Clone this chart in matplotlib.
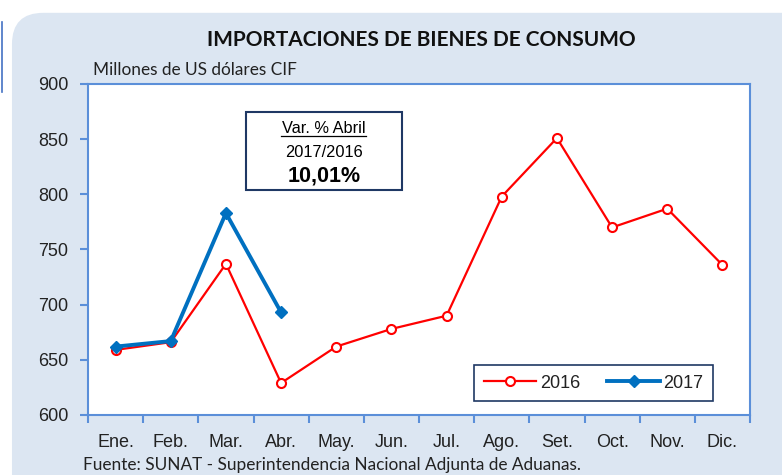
import matplotlib.pyplot as plt
from matplotlib.patches import FancyBboxPatch, Rectangle
from matplotlib.lines import Line2D

meses = ['Ene.', 'Feb.', 'Mar.', 'Abr.', 'May.', 'Jun.', 'Jul.', 'Ago.', 'Set.', 'Oct.', 'Nov.', 'Dic.']
v2016 = [659, 666, 737, 629, 662, 678, 690, 798, 851, 770, 787, 736]
v2017 = [662, 667, 783, 693]

azul_eje = '#5b8fd9'
fondo = '#dce6f2'

fig = plt.figure(figsize=(7.82, 4.75), dpi=100)
fig.patch.set_facecolor('white')

# fondo redondeado
bg = FancyBboxPatch((0.0153, -0.1), 1.1, 1.073, boxstyle='round,pad=0,rounding_size=0.04',
                    transform=fig.transFigure, facecolor=fondo, edgecolor='none', zorder=-10,
                    mutation_aspect=782 / 475)
fig.patches.append(bg)
fig.add_artist(Line2D([0.002, 0.002], [1 - 22 / 475, 1 - 92 / 475], color='#4472c4', lw=1.2,
                      transform=fig.transFigure, zorder=-5))

ax = fig.add_axes([88 / 782, 1 - 415 / 475, 662 / 782, 331 / 475])
ax.set_facecolor('white')

x16 = range(len(v2016))
x17 = range(len(v2017))
ax.plot(x16, v2016, color='#ff0000', lw=1.6, marker='o', ms=6.5, mfc='white', mec='#ff0000',
        mew=1.5, label='2016', zorder=3)
ax.plot(x17, v2017, color='#0070c0', lw=2.8, marker='D', ms=6.5, mfc='#0070c0', mec='#0070c0',
        label='2017', zorder=4)

ax.set_xlim(-0.5, 11.5)
ax.set_ylim(600, 900)
ax.set_yticks(range(600, 901, 50))
ax.set_xticks(list(x16))
ax.set_xticklabels(meses)
ax.set_xticks([i + 0.5 for i in range(-1, 12)], minor=True)
ax.tick_params(axis='x', which='major', length=0, pad=14, labelsize=13, colors='#222222')
ax.tick_params(axis='x', which='minor', length=6, width=1.5, color=azul_eje, direction='out')
ax.tick_params(axis='y', length=6, width=1.5, color=azul_eje, labelsize=13, labelcolor='#222222', pad=8)
for lab in ax.get_xticklabels() + ax.get_yticklabels():
    lab.set_fontfamily('Liberation Sans')
for s in ax.spines.values():
    s.set_color(azul_eje)
    s.set_linewidth(1.5)

# cuadro de variacion
ax.add_patch(Rectangle((0.239, 0.680), 0.235, 0.235, transform=ax.transAxes, facecolor='white',
                       edgecolor='#1f3864', lw=1.5, zorder=5))
cx = 0.3565
ax.text(cx, 0.867, 'Var. % Abril', transform=ax.transAxes, ha='center', va='center',
        fontsize=11.8, family='Liberation Sans', zorder=6)
ax.add_line(Line2D([(281 - 88) / 662, (366 - 88) / 662], [0.842, 0.842], transform=ax.transAxes,
                   color='black', lw=0.9, zorder=6))
ax.text(cx, 0.792, '2017/2016', transform=ax.transAxes, ha='center', va='center',
        fontsize=11.8, family='Liberation Sans', zorder=6)
ax.text(cx, 0.722, '10,01%', transform=ax.transAxes, ha='center', va='center',
        fontsize=15.5, fontweight='bold', family='Liberation Sans', zorder=6)

leg = ax.legend(loc='center', bbox_to_anchor=(0.764, 0.0965), ncol=2, frameon=True, fancybox=False,
                framealpha=1, edgecolor='#1f3864', prop={'family': 'Liberation Sans', 'size': 13},
                handlelength=2.9, handletextpad=0.2, columnspacing=1.5, borderpad=0.55)
leg.get_frame().set_linewidth(1.2)
for t in leg.get_texts():
    t.set_color('#222222')

fig.text(421 / 782, 1 - 40 / 475, 'IMPORTACIONES DE BIENES DE CONSUMO', ha='center', va='center',
         fontsize=15, fontweight='bold', family='Lato', color='#111111')
fig.text(93 / 782, 1 - 70 / 475, 'Millones de US dólares CIF', ha='left', va='center',
         fontsize=12.4, family='Lato', color='#222222')
fig.text(83 / 782, 1 - 465 / 475, 'Fuente: SUNAT - Superintendencia Nacional Adjunta de Aduanas.',
         ha='left', va='center', fontsize=12.4, family='Lato', color='#222222')

fig.savefig('out.png', dpi=100)
